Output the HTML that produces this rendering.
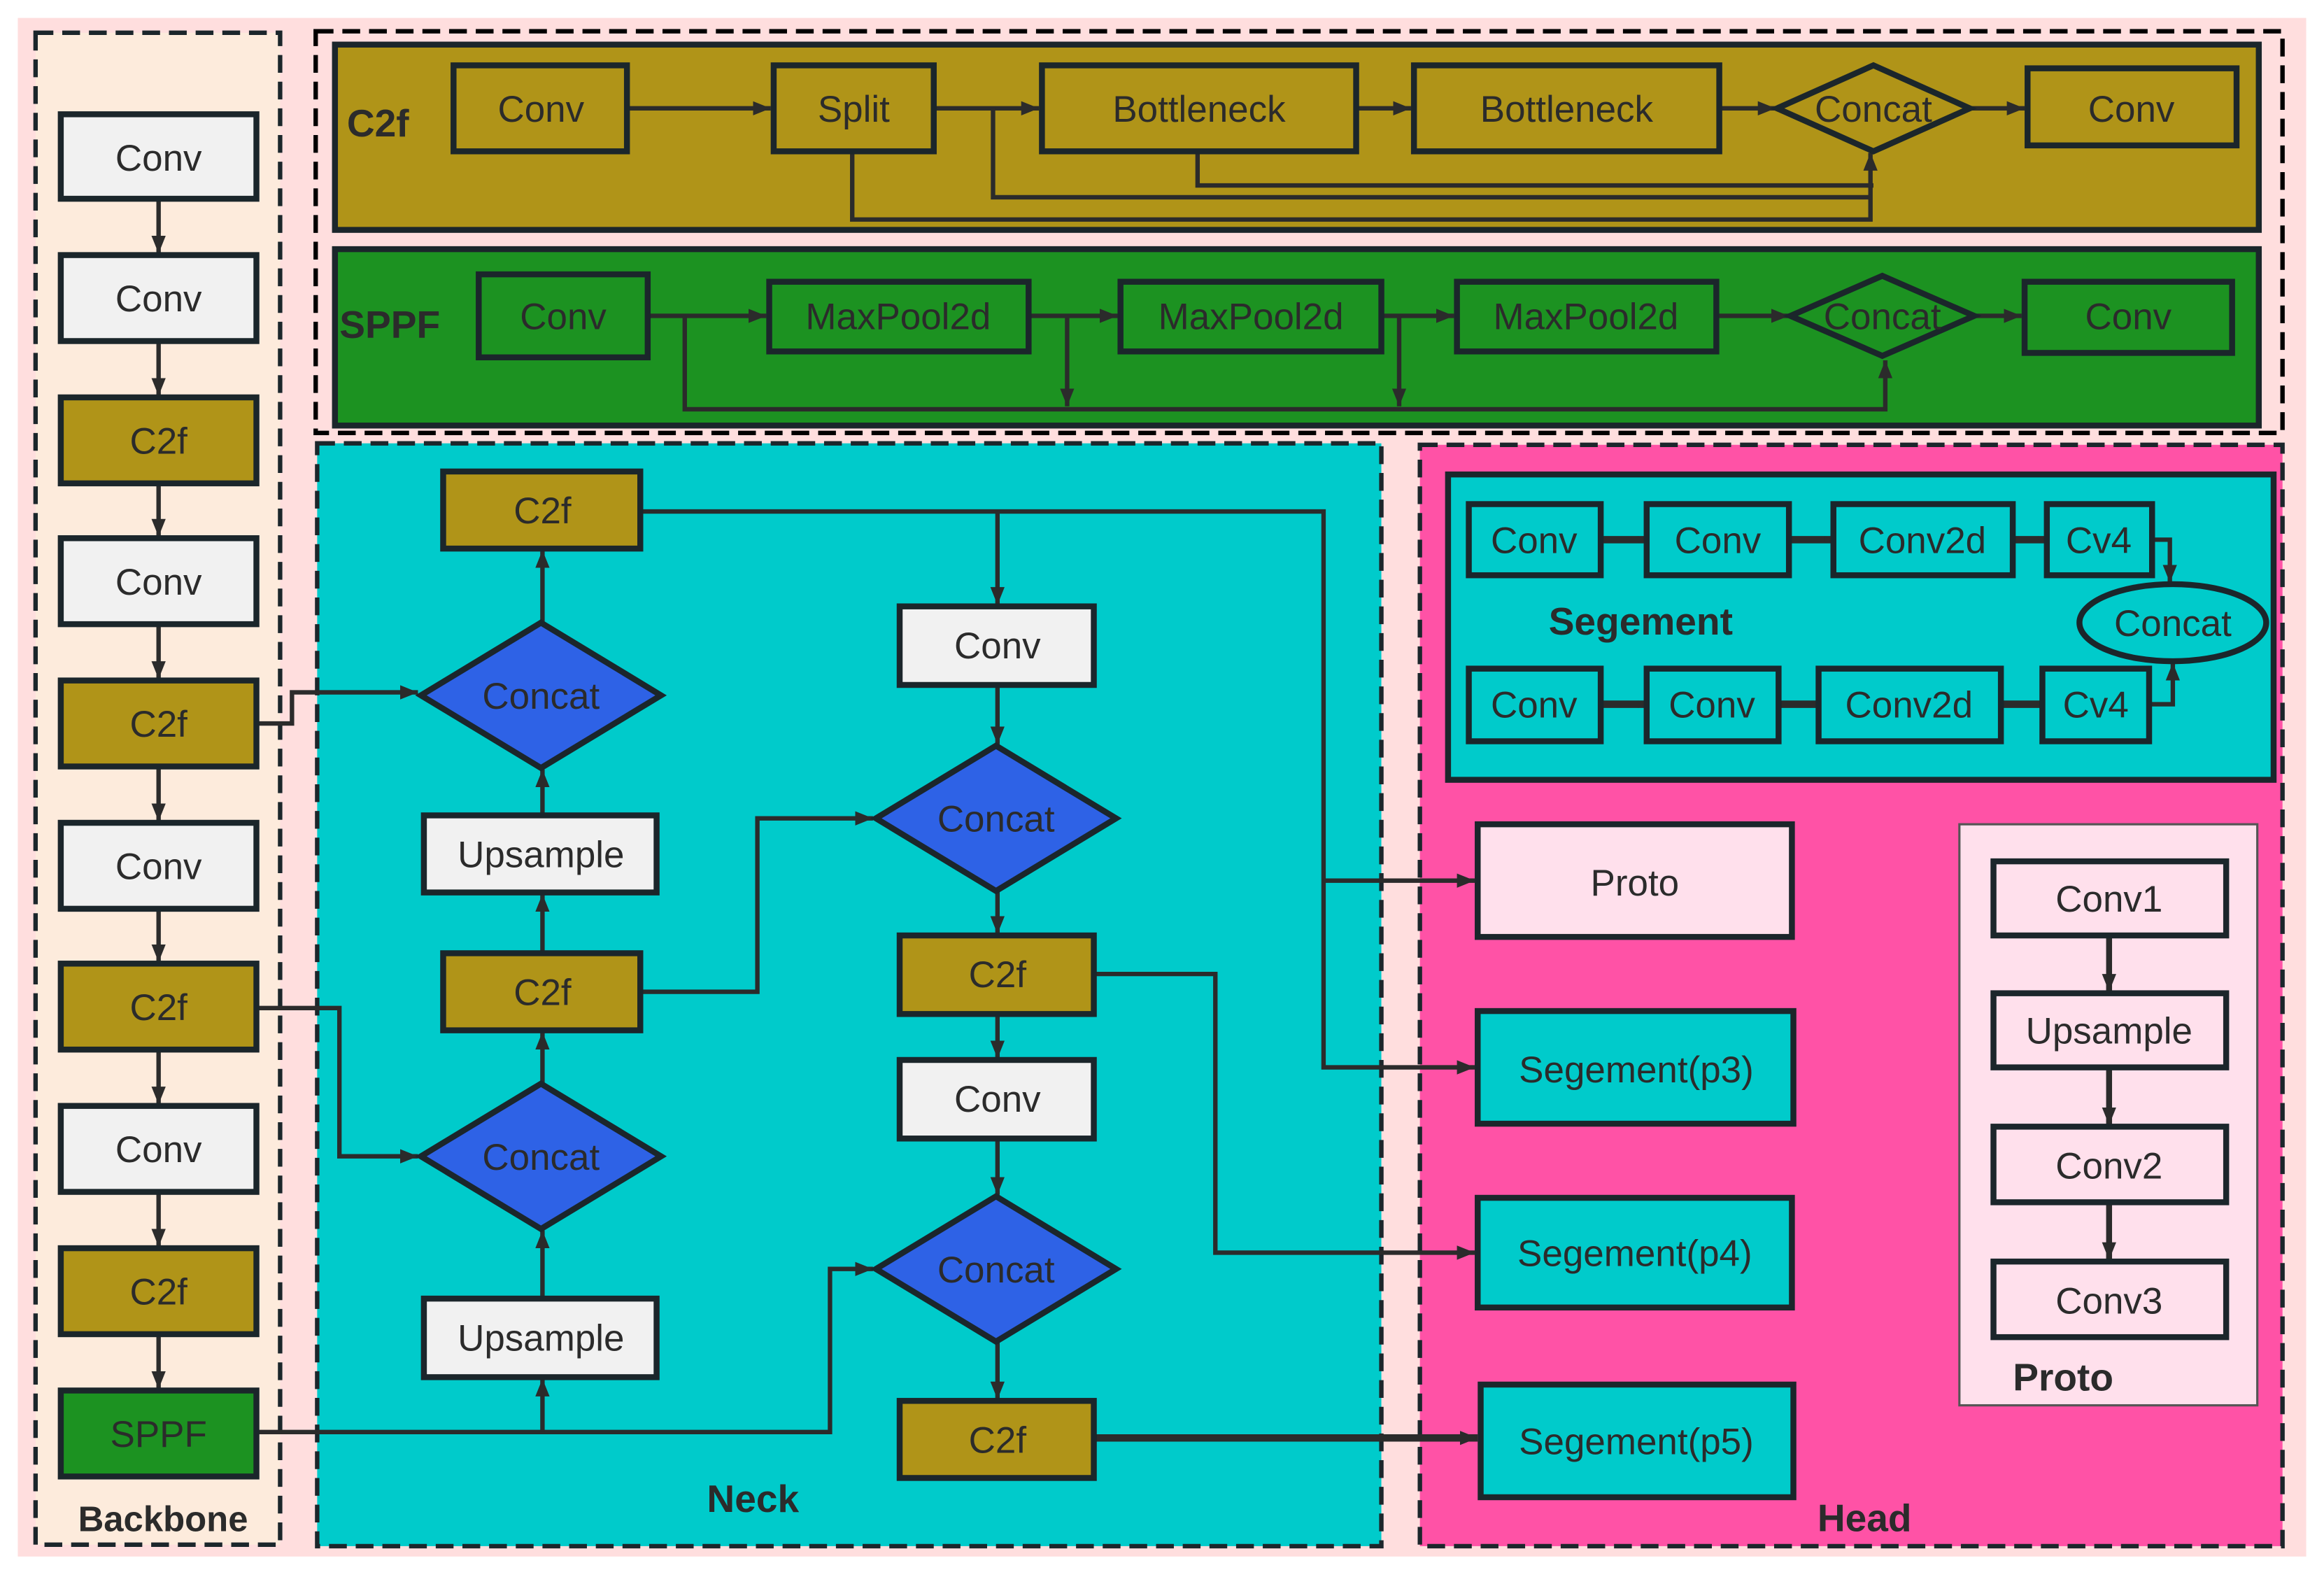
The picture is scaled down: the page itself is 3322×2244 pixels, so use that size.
<!DOCTYPE html>
<html><head><meta charset="utf-8"><style>html,body{margin:0;padding:0;background:#fff}svg{display:block}</style></head>
<body>
<svg width="3322" height="2244" viewBox="0 0 1568 1059" xmlns="http://www.w3.org/2000/svg" font-family="Liberation Sans, sans-serif">
<defs>
<marker id="a" viewBox="0 0 10 10" refX="10" refY="5" markerWidth="5" markerHeight="5" orient="auto-start-reverse" markerUnits="userSpaceOnUse"><path d="M0,0 L10,5 L0,10 z" fill="#2b2b2b"/></marker>
<marker id="m" viewBox="0 0 10 10" refX="10" refY="5" markerWidth="12" markerHeight="12" orient="auto" markerUnits="userSpaceOnUse"><path d="M0,1 L10,5 L0,9 z" fill="#2b2b2b"/></marker>
</defs>
<rect x="0" y="0" width="1568" height="1059" fill="#fff"/>
<rect x="12" y="12" width="1544" height="1038" fill="#FFDEDE"/>
<!-- Backbone -->
<rect x="24" y="22" width="165" height="1020" fill="#FDEBDC" stroke="#1B262B" stroke-width="3" stroke-dasharray="12,6"/>
<!-- Top -->
<rect x="213" y="21" width="1327" height="271" fill="#FFDEDE" stroke="#000" stroke-width="3" stroke-dasharray="12,6"/>
<!-- Neck -->
<rect x="214" y="299" width="718" height="744" fill="#00CBCB" stroke="#1B262B" stroke-width="3" stroke-dasharray="12,6"/>
<!-- Head -->
<rect x="958" y="300" width="582" height="743" fill="#FF52A6" stroke="#1B262B" stroke-width="3" stroke-dasharray="12,6"/>

<g stroke="#1B262B" stroke-width="4">
<rect x="226" y="30" width="1298" height="125" fill="#B09418"/>
<rect x="226" y="168" width="1298" height="119" fill="#1C9221"/>
<rect x="977" y="320" width="557" height="206" fill="#00CBCB"/>
</g>
<rect x="1322" y="556" width="201" height="392" fill="#FFE0EC" stroke="#555" stroke-width="1.5"/>

<g font-weight="bold" fill="#2b2b2b" font-size="26" text-anchor="middle">
<text x="255" y="92">C2f</text>
<text x="263" y="228">SPPF</text>
<text x="110" y="1033" font-size="24">Backbone</text>
<text x="508" y="1020" font-size="26">Neck</text>
<text x="1258" y="1033" font-size="26">Head</text>
<text x="1107" y="428" font-size="26">Segement</text>
<text x="1392" y="938" font-size="26">Proto</text>
</g>

<!-- connectors -->
<g stroke="#2b2b2b" stroke-width="3" fill="none">
<!-- backbone -->
<line x1="107" y1="135" x2="107" y2="171" marker-end="url(#m)"/>
<line x1="107" y1="231" x2="107" y2="267" marker-end="url(#m)"/>
<line x1="107" y1="327" x2="107" y2="362" marker-end="url(#m)"/>
<line x1="107" y1="422" x2="107" y2="458" marker-end="url(#m)"/>
<line x1="107" y1="518" x2="107" y2="554" marker-end="url(#m)"/>
<line x1="107" y1="614" x2="107" y2="649" marker-end="url(#m)"/>
<line x1="107" y1="709" x2="107" y2="745" marker-end="url(#m)"/>
<line x1="107" y1="805" x2="107" y2="841" marker-end="url(#m)"/>
<line x1="107" y1="901" x2="107" y2="937" marker-end="url(#m)"/>
<!-- C2f panel -->
<line x1="423" y1="73" x2="520" y2="73" marker-end="url(#m)"/>
<line x1="630" y1="73" x2="701" y2="73" marker-end="url(#m)"/>
<line x1="915" y1="73" x2="952" y2="73" marker-end="url(#m)"/>
<line x1="1160" y1="73" x2="1198" y2="73" marker-end="url(#m)"/>
<line x1="1330" y1="73" x2="1366" y2="73" marker-end="url(#m)"/>
<polyline points="575,102 575,148 1262,148 1262,103" marker-end="url(#m)"/>
<polyline points="670,73 670,133 1263,133"/>
<polyline points="808,102 808,125 1264,125"/>
<!-- SPPF -->
<line x1="437" y1="213" x2="517" y2="213" marker-end="url(#m)"/>
<line x1="694" y1="213" x2="754" y2="213" marker-end="url(#m)"/>
<line x1="932" y1="213" x2="981" y2="213" marker-end="url(#m)"/>
<line x1="1158" y1="213" x2="1207" y2="213" marker-end="url(#m)"/>
<line x1="1333" y1="213" x2="1364" y2="213" marker-end="url(#m)"/>
<polyline points="462,213 462,276 1272,276 1272,243" marker-end="url(#m)"/>
<line x1="720" y1="213" x2="720" y2="274" marker-end="url(#m)"/>
<line x1="944" y1="213" x2="944" y2="274" marker-end="url(#m)"/>
<!-- neck -->
<polyline points="174,488 197,488 197,467 282,467" marker-end="url(#m)"/>
<polyline points="174,680 229,680 229,780 282,780" marker-end="url(#m)"/>
<polyline points="174,966 560,966 560,856 589,856" marker-end="url(#m)"/>
<line x1="366" y1="966" x2="366" y2="930" marker-end="url(#m)"/>
<line x1="366" y1="876" x2="366" y2="830" marker-end="url(#m)"/>
<line x1="366" y1="731" x2="366" y2="696" marker-end="url(#m)"/>
<line x1="366" y1="643" x2="366" y2="603" marker-end="url(#m)"/>
<line x1="366" y1="550" x2="366" y2="519" marker-end="url(#m)"/>
<line x1="366" y1="420" x2="366" y2="371" marker-end="url(#m)"/>
<polyline points="432,345 893,345 893,720 995,720" marker-end="url(#m)"/>
<line x1="893" y1="594" x2="995" y2="594" marker-end="url(#m)"/>
<line x1="673" y1="345" x2="673" y2="408" marker-end="url(#m)"/>
<line x1="673" y1="462" x2="673" y2="502" marker-end="url(#m)"/>
<line x1="673" y1="601" x2="673" y2="630" marker-end="url(#m)"/>
<polyline points="432,669 511,669 511,552 589,552" marker-end="url(#m)"/>
<line x1="673" y1="684" x2="673" y2="714" marker-end="url(#m)"/>
<line x1="673" y1="768" x2="673" y2="806" marker-end="url(#m)"/>
<line x1="673" y1="905" x2="673" y2="944" marker-end="url(#m)"/>
<polyline points="738,657 820,657 820,845 995,845" marker-end="url(#m)"/>
<line x1="738" y1="970" x2="997" y2="970" stroke-width="5" marker-end="url(#m)"/>
<!-- segement -->
<line x1="1080" y1="364" x2="1110" y2="364" stroke-width="5" marker-end="url(#a)"/>
<line x1="1207" y1="364" x2="1236" y2="364" stroke-width="5" marker-end="url(#a)"/>
<line x1="1358" y1="364" x2="1380" y2="364" stroke-width="5" marker-end="url(#a)"/>
<line x1="1080" y1="475" x2="1110" y2="475" stroke-width="5" marker-end="url(#a)"/>
<line x1="1200" y1="475" x2="1226" y2="475" stroke-width="5" marker-end="url(#a)"/>
<line x1="1350" y1="475" x2="1377" y2="475" stroke-width="5" marker-end="url(#a)"/>
<polyline points="1452,364 1464,364 1464,393" marker-end="url(#m)"/>
<polyline points="1450,475 1466,475 1466,447" marker-end="url(#m)"/>
<!-- proto -->
<line x1="1423" y1="631" x2="1423" y2="669" stroke-width="4" marker-end="url(#m)"/>
<line x1="1423" y1="720" x2="1423" y2="759" stroke-width="4" marker-end="url(#m)"/>
<line x1="1423" y1="811" x2="1423" y2="850" stroke-width="4" marker-end="url(#m)"/>
</g>

<!-- nodes -->
<g stroke="#1B262B" stroke-width="4">
<!-- backbone -->
<rect x="41" y="77" width="132" height="57" fill="#F1F1F1"/>
<rect x="41" y="172" width="132" height="58" fill="#F1F1F1"/>
<rect x="41" y="268" width="132" height="58" fill="#B09418"/>
<rect x="41" y="363" width="132" height="58" fill="#F1F1F1"/>
<rect x="41" y="459" width="132" height="58" fill="#B09418"/>
<rect x="41" y="555" width="132" height="58" fill="#F1F1F1"/>
<rect x="41" y="650" width="132" height="58" fill="#B09418"/>
<rect x="41" y="746" width="132" height="58" fill="#F1F1F1"/>
<rect x="41" y="842" width="132" height="58" fill="#B09418"/>
<rect x="41" y="938" width="132" height="58" fill="#1C9221"/>
<!-- C2f panel -->
<rect x="306" y="44" width="117" height="58" fill="#B09418"/>
<rect x="522" y="44" width="108" height="58" fill="#B09418"/>
<rect x="703" y="44" width="212" height="58" fill="#B09418"/>
<rect x="954" y="44" width="206" height="58" fill="#B09418"/>
<polygon points="1199,73 1264,44 1329,73 1264,102" fill="#B09418"/>
<rect x="1368" y="46" width="141" height="52" fill="#B09418"/>
<!-- SPPF -->
<rect x="323" y="185" width="114" height="56" fill="#1C9221"/>
<rect x="519" y="190" width="175" height="47" fill="#1C9221"/>
<rect x="756" y="190" width="176" height="47" fill="#1C9221"/>
<rect x="983" y="190" width="175" height="47" fill="#1C9221"/>
<polygon points="1208,213 1270,186 1332,213 1270,240" fill="#1C9221"/>
<rect x="1366" y="190" width="140" height="48" fill="#1C9221"/>
<!-- neck -->
<rect x="299" y="318" width="133" height="52" fill="#B09418"/>
<polygon points="284,469 365,420 446,469 365,518" fill="#2E62E6"/>
<rect x="286" y="550" width="157" height="52" fill="#F1F1F1"/>
<rect x="299" y="643" width="133" height="52" fill="#B09418"/>
<polygon points="284,780 365,731 446,780 365,829" fill="#2E62E6"/>
<rect x="286" y="876" width="157" height="53" fill="#F1F1F1"/>
<rect x="607" y="409" width="131" height="53" fill="#F1F1F1"/>
<polygon points="591,552 672,503 753,552 672,601" fill="#2E62E6"/>
<rect x="607" y="631" width="131" height="53" fill="#B09418"/>
<rect x="607" y="715" width="131" height="53" fill="#F1F1F1"/>
<polygon points="591,856 672,807 753,856 672,905" fill="#2E62E6"/>
<rect x="607" y="945" width="131" height="52" fill="#B09418"/>
<!-- head -->
<rect x="991" y="340" width="89" height="48" fill="#00CBCB"/>
<rect x="1111" y="340" width="96" height="48" fill="#00CBCB"/>
<rect x="1237" y="340" width="121" height="48" fill="#00CBCB"/>
<rect x="1381" y="340" width="71" height="48" fill="#00CBCB"/>
<rect x="991" y="451" width="89" height="49" fill="#00CBCB"/>
<rect x="1111" y="451" width="89" height="49" fill="#00CBCB"/>
<rect x="1227" y="451" width="123" height="49" fill="#00CBCB"/>
<rect x="1378" y="451" width="72" height="49" fill="#00CBCB"/>
<ellipse cx="1466" cy="420" rx="63" ry="26" fill="#00CBCB"/>
<rect x="997" y="556" width="212" height="76" fill="#FFE0EC"/>
<rect x="997" y="682" width="213" height="76" fill="#00CBCB"/>
<rect x="997" y="808" width="212" height="74" fill="#00CBCB"/>
<rect x="999" y="934" width="211" height="76" fill="#00CBCB"/>
<rect x="1345" y="581" width="157" height="50" fill="#FFE0EC"/>
<rect x="1345" y="670" width="157" height="50" fill="#FFE0EC"/>
<rect x="1345" y="760" width="157" height="51" fill="#FFE0EC"/>
<rect x="1345" y="851" width="157" height="51" fill="#FFE0EC"/>
</g>

<g fill="#2b2b2b" font-size="25" text-anchor="middle">
<text x="107" y="115">Conv</text>
<text x="107" y="210">Conv</text>
<text x="107" y="306">C2f</text>
<text x="107" y="401">Conv</text>
<text x="107" y="497">C2f</text>
<text x="107" y="593">Conv</text>
<text x="107" y="688">C2f</text>
<text x="107" y="784">Conv</text>
<text x="107" y="880">C2f</text>
<text x="107" y="976">SPPF</text>
<text x="365" y="82">Conv</text>
<text x="576" y="82">Split</text>
<text x="809" y="82">Bottleneck</text>
<text x="1057" y="82">Bottleneck</text>
<text x="1264" y="82">Concat</text>
<text x="1438" y="82">Conv</text>
<text x="380" y="222">Conv</text>
<text x="606" y="222">MaxPool2d</text>
<text x="844" y="222">MaxPool2d</text>
<text x="1070" y="222">MaxPool2d</text>
<text x="1270" y="222">Concat</text>
<text x="1436" y="222">Conv</text>
<text x="366" y="353">C2f</text>
<text x="365" y="478">Concat</text>
<text x="365" y="585">Upsample</text>
<text x="366" y="678">C2f</text>
<text x="365" y="789">Concat</text>
<text x="365" y="911">Upsample</text>
<text x="673" y="444">Conv</text>
<text x="672" y="561">Concat</text>
<text x="673" y="666">C2f</text>
<text x="673" y="750">Conv</text>
<text x="672" y="865">Concat</text>
<text x="673" y="980">C2f</text>
<text x="1035" y="373">Conv</text>
<text x="1159" y="373">Conv</text>
<text x="1297" y="373">Conv2d</text>
<text x="1416" y="373">Cv4</text>
<text x="1035" y="484">Conv</text>
<text x="1155" y="484">Conv</text>
<text x="1288" y="484">Conv2d</text>
<text x="1414" y="484">Cv4</text>
<text x="1466" y="429">Concat</text>
<text x="1103" y="604">Proto</text>
<text x="1104" y="730">Segement(p3)</text>
<text x="1103" y="854">Segement(p4)</text>
<text x="1104" y="981">Segement(p5)</text>
<text x="1423" y="615">Conv1</text>
<text x="1423" y="704">Upsample</text>
<text x="1423" y="795">Conv2</text>
<text x="1423" y="886">Conv3</text>
</g>
</svg>
</body></html>
